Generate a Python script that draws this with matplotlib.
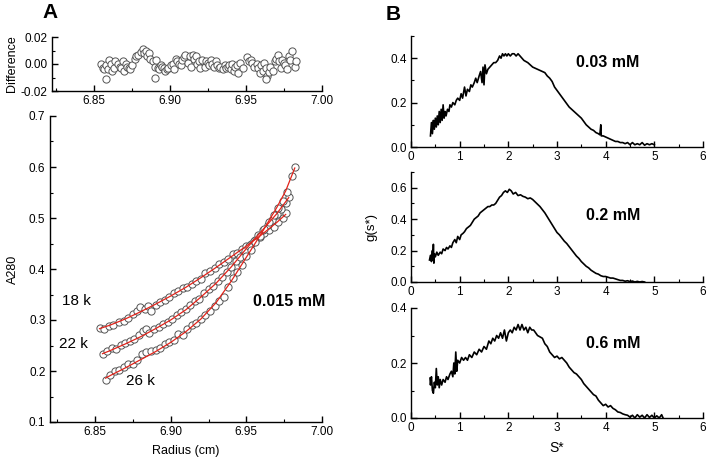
import matplotlib
matplotlib.use("Agg")
import matplotlib.pyplot as plt
from matplotlib.ticker import MultipleLocator, FormatStrFormatter

plt.rcParams['font.family'] = ['Liberation Sans', 'DejaVu Sans']

# ---------------- Panel A: residuals ----------------
diff_radius = [6.855, 6.856, 6.857, 6.858, 6.859, 6.860, 6.861, 6.862, 6.863, 6.864,
               6.866, 6.867, 6.868, 6.869, 6.870, 6.871, 6.872, 6.873, 6.874, 6.875,
               6.877, 6.878, 6.879, 6.881, 6.882, 6.883, 6.884, 6.885, 6.886, 6.887,
               6.889, 6.890, 6.891, 6.892, 6.893, 6.894, 6.895, 6.896, 6.897, 6.898,
               6.899, 6.901, 6.902, 6.903, 6.904, 6.905, 6.906, 6.907, 6.908, 6.909,
               6.910, 6.912, 6.913, 6.914, 6.915, 6.916, 6.917, 6.918, 6.919, 6.920,
               6.921, 6.923, 6.924, 6.925, 6.926, 6.927, 6.928, 6.929, 6.930, 6.931,
               6.932, 6.933, 6.935, 6.936, 6.937, 6.938, 6.939, 6.940, 6.941, 6.942,
               6.943, 6.944, 6.945, 6.946, 6.948, 6.951, 6.952, 6.953, 6.954, 6.955,
               6.957, 6.958, 6.959, 6.960, 6.961, 6.962, 6.963, 6.964, 6.965, 6.966,
               6.968, 6.969, 6.970, 6.971, 6.972, 6.973, 6.974, 6.975, 6.976, 6.977,
               6.978, 6.979, 6.980, 6.982, 6.983, 6.858, 6.890, 6.963]
diff_values = [0.000, -0.003, -0.004, -0.001, -0.004, 0.003, 0.000, -0.005, -0.003, 0.002,
               0.000, -0.002, -0.003, 0.002, -0.005, 0.000, -0.002, -0.003, -0.004, -0.001,
               0.004, 0.006, 0.007, 0.009, 0.011, 0.008, 0.010, 0.006, 0.008, 0.004,
               0.002, -0.002, 0.003, -0.003, -0.004, -0.001, -0.002, -0.003, -0.005, -0.004,
               -0.003, -0.001, 0.000, -0.004, 0.004, 0.002, 0.000, -0.001, 0.003, 0.005,
               0.007, 0.001, 0.006, -0.002, 0.007, 0.004, 0.006, 0.000, 0.002, -0.003,
               0.003, -0.002, 0.002, 0.001, -0.001, 0.003, 0.000, -0.002, 0.002, -0.001,
               -0.003, -0.002, -0.004, -0.001, -0.003, -0.002, -0.001, -0.004, 0.000, -0.005,
               -0.002, -0.001, -0.007, 0.001, -0.003, 0.005, 0.002, 0.003, 0.001, -0.002,
               0.000, -0.003, -0.007, -0.001, -0.005, 0.001, -0.003, -0.009, -0.006, -0.002,
               -0.005, 0.002, 0.004, 0.007, 0.002, -0.003, 0.003, 0.001, -0.001, -0.004,
               0.006, 0.003, 0.010, -0.002, 0.002, -0.011, -0.010, -0.011]

# ---------------- Panel A: absorbance scans ----------------
r_18k = [6.853, 6.856, 6.859, 6.862, 6.866, 6.869, 6.872, 6.875, 6.878, 6.880, 6.883,
         6.885, 6.887, 6.890, 6.893, 6.896, 6.899, 6.902, 6.905, 6.908, 6.911, 6.914,
         6.917, 6.920, 6.923, 6.926, 6.929, 6.932, 6.935, 6.938, 6.941, 6.944, 6.947,
         6.950, 6.953, 6.956, 6.959, 6.962, 6.965, 6.968, 6.971, 6.974, 6.976]
a_18k = [0.284, 0.283, 0.289, 0.290, 0.297, 0.298, 0.303, 0.311, 0.318, 0.326, 0.322,
         0.328, 0.318, 0.330, 0.336, 0.339, 0.346, 0.352, 0.356, 0.362, 0.365, 0.370,
         0.377, 0.381, 0.392, 0.396, 0.402, 0.409, 0.413, 0.420, 0.429, 0.432, 0.440,
         0.446, 0.449, 0.457, 0.463, 0.470, 0.477, 0.483, 0.492, 0.500, 0.509]
r_22k = [6.855, 6.858, 6.861, 6.864, 6.867, 6.870, 6.873, 6.876, 6.879, 6.882, 6.884,
         6.886, 6.889, 6.892, 6.895, 6.898, 6.901, 6.904, 6.907, 6.910, 6.913, 6.916,
         6.919, 6.922, 6.925, 6.928, 6.931, 6.934, 6.937, 6.940, 6.943, 6.946, 6.949,
         6.952, 6.955, 6.958, 6.961, 6.964, 6.967, 6.970, 6.973, 6.976, 6.978]
a_22k = [0.233, 0.240, 0.245, 0.244, 0.251, 0.254, 0.258, 0.262, 0.270, 0.279, 0.283,
         0.275, 0.282, 0.287, 0.292, 0.296, 0.302, 0.309, 0.315, 0.322, 0.330, 0.338,
         0.342, 0.352, 0.360, 0.367, 0.376, 0.384, 0.394, 0.404, 0.415, 0.424, 0.435,
         0.446, 0.455, 0.466, 0.477, 0.487, 0.497, 0.508, 0.517, 0.530, 0.541]
r_26k = [6.857, 6.860, 6.863, 6.866, 6.869, 6.872, 6.875, 6.878, 6.881, 6.884, 6.887,
         6.890, 6.893, 6.896, 6.899, 6.902, 6.905, 6.908, 6.911, 6.914, 6.917, 6.920,
         6.923, 6.926, 6.929, 6.932, 6.935, 6.938, 6.941, 6.944, 6.947, 6.950, 6.953,
         6.956, 6.959, 6.962, 6.965, 6.968, 6.971, 6.974, 6.977, 6.980, 6.982]
a_26k = [0.183, 0.193, 0.200, 0.201, 0.207, 0.213, 0.214, 0.222, 0.233, 0.238, 0.240,
         0.242, 0.245, 0.252, 0.256, 0.260, 0.272, 0.270, 0.283, 0.290, 0.295, 0.302,
         0.310, 0.318, 0.327, 0.338, 0.346, 0.365, 0.382, 0.395, 0.408, 0.425, 0.437,
         0.452, 0.465, 0.478, 0.492, 0.505, 0.520, 0.533, 0.551, 0.582, 0.600]

fit_r_18k = [6.853, 6.86, 6.87, 6.88, 6.89, 6.90, 6.91, 6.92, 6.93, 6.94, 6.95, 6.96, 6.97, 6.976]
fit_a_18k = [0.283, 0.290, 0.302, 0.316, 0.331, 0.347, 0.364, 0.383, 0.403, 0.424, 0.445, 0.467, 0.491, 0.507]
fit_r_22k = [6.855, 6.86, 6.87, 6.88, 6.89, 6.90, 6.91, 6.92, 6.93, 6.94, 6.95, 6.96, 6.97, 6.978]
fit_a_22k = [0.234, 0.240, 0.253, 0.267, 0.283, 0.300, 0.320, 0.345, 0.372, 0.404, 0.440, 0.474, 0.508, 0.540]
fit_r_26k = [6.857, 6.86, 6.87, 6.88, 6.89, 6.90, 6.91, 6.92, 6.93, 6.94, 6.95, 6.96, 6.97, 6.976, 6.982]
fit_a_26k = [0.186, 0.191, 0.206, 0.222, 0.238, 0.256, 0.277, 0.302, 0.334, 0.376, 0.423, 0.470, 0.520, 0.553, 0.598]

speed_labels = ['18 k', '22 k', '26 k']
conc_A = '0.015 mM'

# ---------------- Panel B: g(s*) distributions ----------------
s_003 = [0.40, 0.42, 0.44, 0.46, 0.48, 0.50, 0.52, 0.54, 0.56, 0.58, 0.60, 0.62, 0.64, 0.66,
         0.68, 0.70, 0.72, 0.75, 0.78, 0.80, 0.83, 0.86, 0.90, 0.93, 0.96, 1.00, 1.03, 1.06,
         1.10, 1.13, 1.16, 1.20, 1.23, 1.26, 1.30, 1.33, 1.36, 1.40, 1.43, 1.46, 1.48, 1.50,
         1.52, 1.55, 1.58, 1.62, 1.66, 1.70, 1.74, 1.78, 1.82, 1.85, 1.88, 1.91, 1.94, 1.97,
         2.00, 2.04, 2.08, 2.12, 2.16, 2.20, 2.24, 2.28, 2.32, 2.36, 2.40, 2.45, 2.50, 2.55,
         2.60, 2.65, 2.70, 2.75, 2.80, 2.85, 2.90, 2.95, 3.00, 3.05, 3.10, 3.15, 3.20, 3.25,
         3.30, 3.35, 3.40, 3.45, 3.50, 3.55, 3.60, 3.65, 3.70, 3.75, 3.80, 3.85, 3.88, 3.90,
         3.91, 3.95, 4.00, 4.05, 4.10, 4.15, 4.20, 4.25, 4.30, 4.35, 4.40, 4.45, 4.50, 4.55,
         4.60, 4.65, 4.70, 4.75, 4.80, 4.85, 4.90, 4.95, 5.00]
g_003 = [0.05, 0.11, 0.06, 0.12, 0.08, 0.13, 0.09, 0.14, 0.10, 0.16, 0.11, 0.17, 0.12, 0.19,
         0.13, 0.16, 0.14, 0.17, 0.16, 0.19, 0.18, 0.20, 0.19, 0.21, 0.22, 0.21, 0.24, 0.22,
         0.27, 0.23, 0.26, 0.25, 0.28, 0.27, 0.29, 0.31, 0.29, 0.32, 0.34, 0.29, 0.36, 0.28,
         0.37, 0.33, 0.35, 0.36, 0.37, 0.38, 0.38, 0.39, 0.41, 0.40, 0.42, 0.41, 0.42, 0.41,
         0.42, 0.41, 0.42, 0.42, 0.41, 0.42, 0.41, 0.40, 0.39, 0.385, 0.38, 0.37, 0.36, 0.355,
         0.35, 0.345, 0.34, 0.335, 0.32, 0.31, 0.295, 0.27, 0.255, 0.24, 0.225, 0.21, 0.195, 0.18,
         0.17, 0.16, 0.15, 0.14, 0.13, 0.115, 0.10, 0.09, 0.08, 0.075, 0.065, 0.06, 0.055, 0.10,
         0.05, 0.05, 0.045, 0.04, 0.035, 0.03, 0.025, 0.025, 0.02, 0.02, 0.015, 0.02, 0.01, 0.02,
         0.01, 0.015, 0.01, 0.02, 0.008, 0.015, 0.01, 0.015, 0.01]

s_02 = [0.38, 0.40, 0.42, 0.44, 0.45, 0.46, 0.47, 0.48, 0.50, 0.53, 0.56, 0.60, 0.63, 0.66,
        0.70, 0.73, 0.76, 0.80, 0.83, 0.86, 0.90, 0.93, 0.96, 1.00, 1.03, 1.07, 1.10, 1.14,
        1.18, 1.22, 1.26, 1.30, 1.34, 1.38, 1.42, 1.46, 1.50, 1.54, 1.58, 1.62, 1.66, 1.70,
        1.74, 1.78, 1.82, 1.86, 1.90, 1.94, 1.98, 2.02, 2.06, 2.10, 2.15, 2.20, 2.25, 2.30,
        2.35, 2.40, 2.45, 2.50, 2.55, 2.60, 2.65, 2.70, 2.75, 2.80, 2.85, 2.90, 2.95, 3.00,
        3.05, 3.10, 3.15, 3.20, 3.25, 3.30, 3.35, 3.40, 3.45, 3.50, 3.55, 3.60, 3.65, 3.70,
        3.75, 3.80, 3.85, 3.90, 3.95, 4.00, 4.05, 4.10, 4.15, 4.20, 4.25, 4.30, 4.35, 4.40,
        4.45, 4.50, 4.55, 4.60, 4.65, 4.70, 4.75, 4.80]
g_02 = [0.14, 0.17, 0.13, 0.20, 0.14, 0.24, 0.12, 0.18, 0.16, 0.19, 0.17, 0.19, 0.18, 0.21,
        0.20, 0.22, 0.21, 0.23, 0.22, 0.25, 0.27, 0.25, 0.29, 0.27, 0.30, 0.31, 0.32, 0.34,
        0.35, 0.36, 0.38, 0.40, 0.41, 0.42, 0.44, 0.45, 0.46, 0.47, 0.48, 0.48, 0.49, 0.49,
        0.50, 0.52, 0.54, 0.55, 0.57, 0.58, 0.57, 0.59, 0.58, 0.56, 0.57, 0.55, 0.555, 0.545,
        0.54, 0.53, 0.535, 0.525, 0.51, 0.495, 0.48, 0.46, 0.44, 0.415, 0.39, 0.365, 0.34, 0.315,
        0.30, 0.28, 0.26, 0.245, 0.225, 0.205, 0.185, 0.165, 0.15, 0.13, 0.115, 0.10, 0.09, 0.075,
        0.065, 0.055, 0.05, 0.04, 0.035, 0.035, 0.03, 0.025, 0.025, 0.02, 0.015, 0.01, 0.01, 0.005,
        0.008, 0.003, 0.006, 0.0, 0.004, 0.0, 0.003, 0.0]

s_06 = [0.39, 0.40, 0.42, 0.44, 0.46, 0.48, 0.50, 0.52, 0.54, 0.56, 0.58, 0.60, 0.63, 0.66,
        0.70, 0.73, 0.76, 0.80, 0.83, 0.86, 0.88, 0.90, 0.92, 0.94, 0.96, 1.00, 1.04, 1.08,
        1.12, 1.16, 1.20, 1.25, 1.30, 1.35, 1.40, 1.45, 1.50, 1.55, 1.60, 1.64, 1.68, 1.72,
        1.76, 1.80, 1.84, 1.88, 1.92, 1.96, 2.00, 2.04, 2.08, 2.12, 2.16, 2.20, 2.24, 2.28,
        2.32, 2.36, 2.40, 2.44, 2.48, 2.52, 2.56, 2.60, 2.65, 2.70, 2.75, 2.80, 2.85, 2.90,
        2.95, 3.00, 3.05, 3.10, 3.15, 3.20, 3.25, 3.30, 3.35, 3.40, 3.45, 3.50, 3.55, 3.60,
        3.65, 3.70, 3.75, 3.80, 3.85, 3.90, 3.95, 4.00, 4.05, 4.10, 4.15, 4.20, 4.25, 4.30,
        4.35, 4.40, 4.45, 4.50, 4.55, 4.60, 4.65, 4.70, 4.75, 4.80, 4.85, 4.90, 4.95, 5.00,
        5.05, 5.10, 5.15, 5.18]
g_06 = [0.145, 0.12, 0.15, 0.10, 0.09, 0.13, 0.11, 0.18, 0.12, 0.15, 0.11, 0.14, 0.12, 0.14,
        0.13, 0.15, 0.14, 0.16, 0.17, 0.15, 0.20, 0.16, 0.24, 0.17, 0.21, 0.20, 0.22, 0.21,
        0.22, 0.21, 0.23, 0.22, 0.24, 0.23, 0.25, 0.24, 0.26, 0.25, 0.28, 0.27, 0.29, 0.28,
        0.30, 0.29, 0.31, 0.29, 0.32, 0.28, 0.31, 0.32, 0.31, 0.33, 0.32, 0.34, 0.32, 0.34,
        0.32, 0.33, 0.31, 0.33, 0.32, 0.32, 0.31, 0.30, 0.295, 0.29, 0.27, 0.26, 0.24, 0.23,
        0.22, 0.225, 0.215, 0.22, 0.21, 0.20, 0.185, 0.175, 0.165, 0.16, 0.15, 0.14, 0.125, 0.115,
        0.105, 0.095, 0.085, 0.08, 0.065, 0.055, 0.045, 0.05, 0.04, 0.045, 0.035, 0.03, 0.022, 0.02,
        0.015, 0.012, 0.01, 0.003, 0.01, 0.0, 0.012, 0.003, 0.01, 0.0, 0.012, 0.002, 0.01, 0.0,
        0.008, 0.0, 0.012, 0.0]

conc_B = ['0.03 mM', '0.2 mM', '0.6 mM']

# ---------------- figure ----------------
W, H = 708, 459
fig = plt.figure(figsize=(W / 100, H / 100), dpi=100)


def px_axes(left, top, right, bottom):
    return fig.add_axes([left / W, 1 - bottom / H, (right - left) / W, (bottom - top) / H])


def style(ax, fs=8.5):
    for s in ('top', 'right'):
        ax.spines[s].set_visible(False)
    for s in ('left', 'bottom'):
        ax.spines[s].set_linewidth(1.0)
    ax.tick_params(which='major', direction='in', length=4, width=1.0, labelsize=fs, pad=3)
    ax.tick_params(which='minor', direction='in', length=2.5, width=0.8)


mk = dict(marker='o', ls='none', ms=5.2, mfc='white', mec='#555555', mew=0.7)

# Difference panel
axd = px_axes(52, 37, 322, 91)
axd.plot(diff_radius, diff_values, **mk)
axd.set_xlim(6.8225, 7.0)
axd.set_ylim(-0.02, 0.02)
axd.xaxis.set_major_locator(MultipleLocator(0.05))
axd.xaxis.set_minor_locator(MultipleLocator(0.025))
axd.yaxis.set_major_locator(MultipleLocator(0.02))
axd.yaxis.set_minor_locator(MultipleLocator(0.01))
axd.xaxis.set_major_formatter(FormatStrFormatter('%.2f'))
axd.yaxis.set_major_formatter(FormatStrFormatter('%.2f'))
style(axd)
axd.set_ylabel('Difference', fontsize=9, labelpad=2)

# Main panel A
axa = px_axes(49.6, 116, 322, 422)
for r, a in ((r_18k, a_18k), (r_22k, a_22k), (r_26k, a_26k)):
    axa.plot(r, a, zorder=2, **mk)
for r, a in ((fit_r_18k, fit_a_18k), (fit_r_22k, fit_a_22k), (fit_r_26k, fit_a_26k)):
    axa.plot(r, a, color='#e2231a', lw=0.9, zorder=3)
axa.set_xlim(6.82, 7.0)
axa.set_ylim(0.1, 0.7)
axa.xaxis.set_major_locator(MultipleLocator(0.05))
axa.xaxis.set_minor_locator(MultipleLocator(0.025))
axa.yaxis.set_major_locator(MultipleLocator(0.1))
axa.yaxis.set_minor_locator(MultipleLocator(0.05))
axa.xaxis.set_major_formatter(FormatStrFormatter('%.2f'))
axa.yaxis.set_major_formatter(FormatStrFormatter('%.1f'))
style(axa)
axa.set_xlabel('Radius (cm)', fontsize=9, labelpad=5)
axa.set_ylabel('A280', fontsize=9, labelpad=7)
axa.text(6.838, 0.337, speed_labels[0], fontsize=11, ha='center', va='center')
axa.text(6.8355, 0.252, speed_labels[1], fontsize=11, ha='center', va='center')
axa.text(6.8797, 0.181, speed_labels[2], fontsize=11, ha='center', va='center')
axa.text(6.978, 0.337, conc_A, fontsize=11.5, fontweight='bold', ha='center', va='center')

# Panel B
b_axes = [
    (px_axes(411, 36, 703, 147), s_003, g_003, 0.5, 0.1, (0.0, 0.2, 0.4), 4.05, 0.38),
    (px_axes(411, 172, 703, 282), s_02, g_02, 0.7, 0.1, (0.0, 0.2, 0.4, 0.6), 4.15, 0.42),
    (px_axes(411, 308, 703, 418), s_06, g_06, 0.4, 0.1, (0.0, 0.2, 0.4), 4.15, 0.27),
]
for i, (ax, s, g, ytop, ymin, yt, tx, ty) in enumerate(b_axes):
    ax.plot(s, g, color='black', lw=1.2)
    ax.set_xlim(0, 6)
    ax.set_ylim(0, ytop)
    ax.xaxis.set_major_locator(MultipleLocator(1))
    ax.xaxis.set_minor_locator(MultipleLocator(0.5))
    ax.set_yticks(yt)
    ax.yaxis.set_minor_locator(MultipleLocator(ymin))
    ax.yaxis.set_major_formatter(FormatStrFormatter('%.1f'))
    style(ax)
    ax.text(tx, ty, conc_B[i], fontsize=11.5, fontweight='bold', ha='center', va='center')
b_axes[1][0].set_ylabel('g(s*)', fontsize=9.5, labelpad=9)
b_axes[2][0].set_xlabel('S*', fontsize=10, labelpad=5)

fig.text(50 / W, 1 - 13 / H, 'A', fontsize=15, fontweight='bold', ha='center', va='center')
fig.text(393 / W, 1 - 15 / H, 'B', fontsize=15, fontweight='bold', ha='center', va='center')

fig.savefig('out.png', dpi=100)
